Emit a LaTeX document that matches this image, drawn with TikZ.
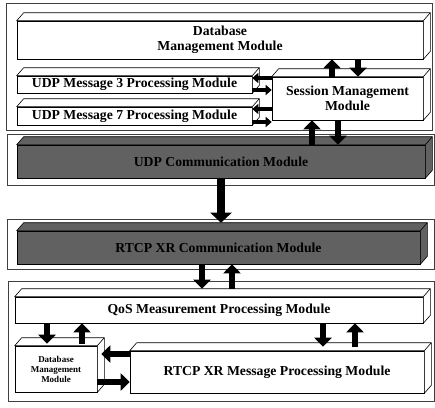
\documentclass[tikz,border=0pt]{standalone}
\usepackage{fontspec}
\setmainfont{Liberation Serif}
\usetikzlibrary{calc,arrows.meta}
\newcommand\boxfaces[2]{%
  \filldraw[fill=#2, line width=0.6pt, line join=round]
    (#1.north west) -- ++(7,-8) -- ($(#1.north east)+(7,-8)$) -- ($(#1.south east)+(7,-8)$)
    -- (#1.south east) -- (#1.north east) -- cycle;
  \draw[line width=0.6pt] (#1.north east) -- ++(7,-8);
}
\begin{document}
\begin{tikzpicture}[x=1pt,y=-1pt,
  box/.style={draw, line width=0.6pt, fill=white, inner sep=0pt, align=center,
    font=\bfseries\fontsize{13.7}{14.5}\selectfont},
  darkbox/.style={box, fill=black!62, text=black},
  smallbox/.style={box, font=\bfseries\fontsize{9}{10}\selectfont},
  frame/.style={draw=black!75, line width=0.6pt, inner sep=0pt, anchor=north west},
  bar/.style={line width=6pt, -{Triangle[width=17pt,length=9pt]}},
  sbar/.style={line width=3.5pt, -{Triangle[width=10pt,length=6pt]}},
  bigbar/.style={line width=8pt, -{Triangle[width=21pt,length=10pt]}}
]
\useasboundingbox (0,0) rectangle (435,407);

% frames
\node[frame, minimum width=426, minimum height=127] (f1) at (6,3) {};
\node[frame, minimum width=427, minimum height=51] (f2) at (7,134) {};
\node[frame, minimum width=427, minimum height=50] (f3) at (7,219) {};
\node[frame, minimum width=426, minimum height=120] (f4) at (8,281) {};

% boxes
\node[box, minimum width=406, minimum height=38] (dbtop) at (220,40) {Database\\Management Module};
\boxfaces{dbtop}{white}
\node[box, minimum width=235, minimum height=17] (udp3) at (134.5,84.5) {UDP Message 3 Processing Module};
\boxfaces{udp3}{white}
\node[box, minimum width=235, minimum height=18] (udp7) at (134.5,116) {UDP Message 7 Processing Module};
\boxfaces{udp7}{white}
\node[box, minimum width=151, minimum height=43] (sess) at (347.5,98.5) {Session Management\\Module};
\boxfaces{sess}{white}
\node[darkbox, minimum width=408, minimum height=33] (udpc) at (221,161.5) {UDP Communication Module};
\boxfaces{udpc}{black!62}
\node[darkbox, minimum width=403, minimum height=33] (rtcpc) at (218.5,247.5) {RTCP XR Communication Module};
\boxfaces{rtcpc}{black!62}
\node[box, minimum width=408, minimum height=26] (qos) at (219,310) {QoS Measurement Processing Module};
\boxfaces{qos}{white}
\node[smallbox, minimum width=82, minimum height=46] (dbs) at (56,369) {Database\\Management\\Module};
\boxfaces{dbs}{white}
\node[box, minimum width=294, minimum height=42] (rtcpm) at (277,372) {RTCP XR Message Processing Module};
\boxfaces{rtcpm}{white}

% connectors
\draw[bar] (332,0 |- sess.north) -- (332,0 |- dbtop.south);
\draw[bar] (358,0 |- dbtop.south) -- (358,0 |- sess.north);
\draw[sbar] (sess.west |- 0,78) -- (udp3.east |- 0,78);
\draw[sbar] (udp3.east |- 0,90) -- (sess.west |- 0,90);
\draw[sbar] (sess.west |- 0,109) -- (udp7.east |- 0,109);
\draw[sbar] (udp7.east |- 0,122) -- (sess.west |- 0,122);
\draw[bar] (312,0 |- udpc.north) -- (312,0 |- sess.south);
\draw[bar] (338,0 |- sess.south) -- (338,0 |- udpc.north);
\draw[bigbar] (221,0 |- udpc.south) -- ($(221,0 |- rtcpc.north)+(0,-8)$);
\draw[bar] (202,0 |- rtcpc.south) -- ($(202,0 |- qos.north)+(0,-8)$);
\draw[bar] ($(232,0 |- qos.north)+(0,-8)$) -- (232,0 |- rtcpc.south);
\draw[bar] (47,0 |- qos.south) -- ($(47,0 |- dbs.north)+(0,-2)$);
\draw[bar] ($(82,0 |- dbs.north)+(0,-2)$) -- (82,0 |- qos.south);
\draw[bar] (323,0 |- qos.south) -- ($(323,0 |- rtcpm.north)+(0,-4)$);
\draw[bar] ($(355,0 |- rtcpm.north)+(0,-4)$) -- (355,0 |- qos.south);
\draw[bar] (rtcpm.west |- 0,354) -- ($(dbs.east |- 0,354)+(4,0)$);
\draw[bar] (dbs.east |- 0,382) -- (rtcpm.west |- 0,382);
\end{tikzpicture}
\end{document}
